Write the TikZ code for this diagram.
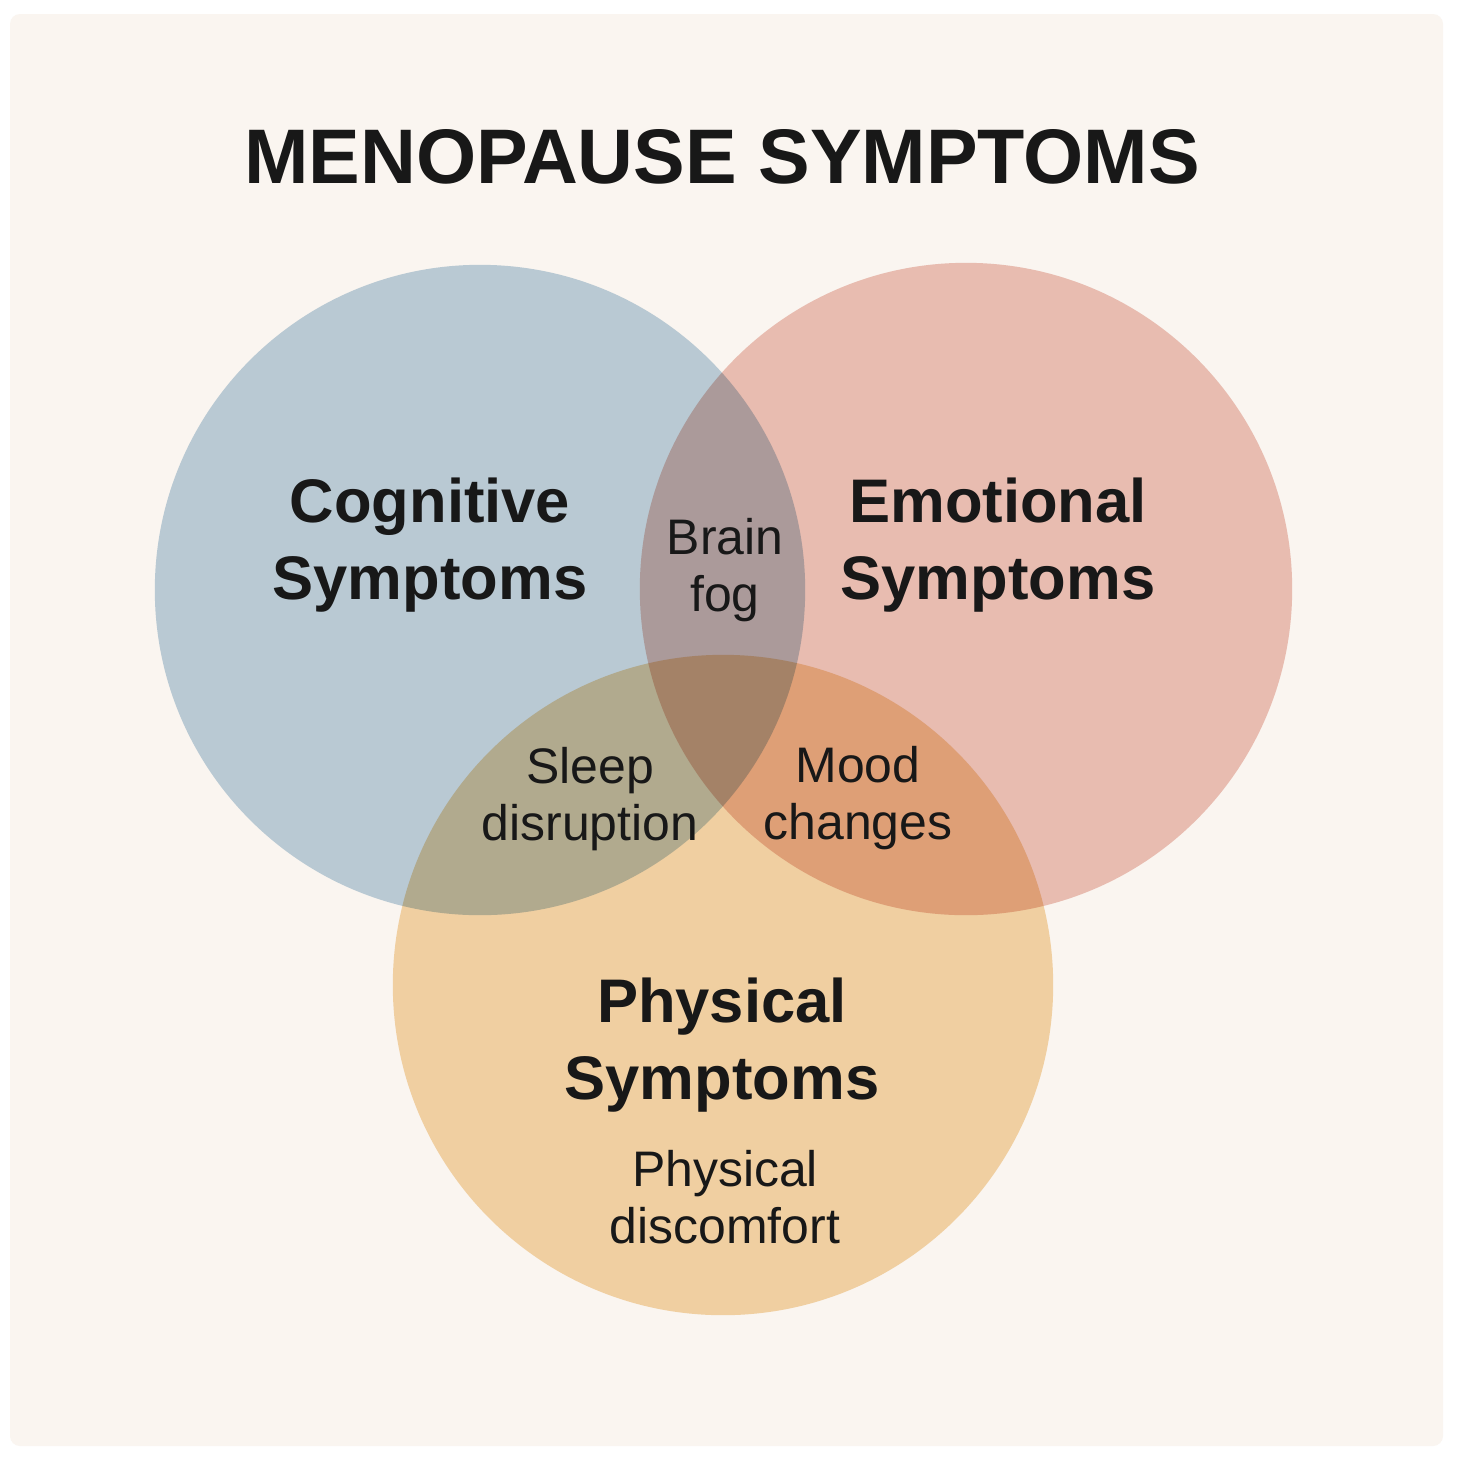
\documentclass[tikz,border=0pt]{standalone}
\usepackage{fontspec}
\setmainfont{Liberation Sans}
\usetikzlibrary{calc}
\definecolor{paper}{RGB}{250,245,240}
\definecolor{inkdark}{RGB}{24,24,24}
\definecolor{cogblue}{RGB}{189,210,225}
\definecolor{emored}{RGB}{237,196,187}
\definecolor{physorange}{RGB}{245,216,172}
\tikzset{%
  venn/.style      = {circle, draw=none, inner sep=0pt, minimum size=#1},%
  heading/.style   = {font=\fontsize{22}{26}\selectfont\bfseries, text=inkdark, anchor=base},%
  setlabel/.style  = {align=center, font=\fontsize{17.5}{22}\selectfont\bfseries, text=inkdark, inner sep=0pt},%
  itemlabel/.style = {align=center, font=\fontsize{14.2}{16}\selectfont, text=inkdark, inner sep=0pt}%
}
\begin{document}
\begin{tikzpicture}[x=0.01cm, y=-0.01cm]
	\useasboundingbox (0,0) rectangle (1466,1466);
	\fill[white] (0,0) rectangle (1466,1466);
	\fill[paper, rounded corners=1mm] (10,14) rectangle (1443,1446);
	% the three sets
	\begin{scope}[blend mode=multiply]
		\node[venn=6.5cm, fill=cogblue] (cog) at (480,590) {};
		\node[venn=6.52cm, fill=emored] (emo) at (966,589) {};
		\node[venn=6.6cm, fill=physorange] (phys) at (723,985) {};
	\end{scope}
	% title
	\node[heading] (title) at (722,183) {MENOPAUSE SYMPTOMS};
	% set names
	\node[setlabel] (coglabel) at (430,545) {Cognitive\\Symptoms};
	\node[setlabel] (emolabel) at (998,545) {Emotional\\Symptoms};
	\node[setlabel] (physlabel) at (722,1045) {Physical\\Symptoms};
	% overlaps
	\node[itemlabel] (brainfog) at (725,570) {Brain\\fog};
	\node[itemlabel] (sleep) at (590,799) {Sleep\\disruption};
	\node[itemlabel] (mood) at (858,798) {Mood\\changes};
	\node[itemlabel] (discomfort) at (725,1197) {Physical\\discomfort};
\end{tikzpicture}
\end{document}
